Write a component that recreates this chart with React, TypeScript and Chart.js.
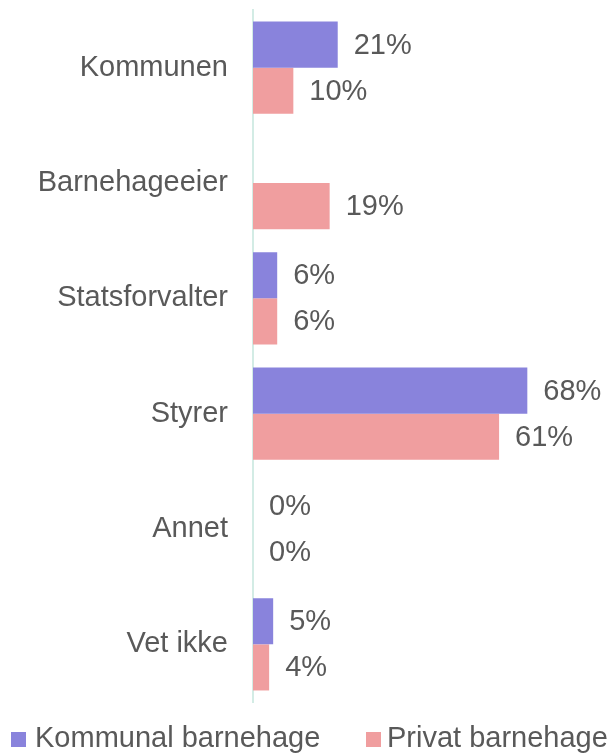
import React, { useEffect, useRef } from "react";
import { Chart, registerables } from "chart.js";

Chart.register(...registerables);

const categories = ["Kommunen", "Barnehageeier", "Statsforvalter", "Styrer", "Annet", "Vet ikke"];
const seriesNames = ["Kommunal barnehage", "Privat barnehage"];
const kommunalValues: (number | null)[] = [21, null, 6, 68, 0, 5];
const privatValues: (number | null)[] = [10, 19, 6, 61, 0, 4];
const seriesColors = ["#8983DC", "#F09E9F"];

const FONT = "'Liberation Sans', Arial, sans-serif";
const TEXT_COLOR = "#595959";

const valueLabelPlugin = {
  id: "valueLabels",
  afterDatasetsDraw(chart: any) {
    const ctx = chart.ctx;
    ctx.save();
    ctx.font = `29px ${FONT}`;
    ctx.fillStyle = TEXT_COLOR;
    ctx.textAlign = "left";
    ctx.textBaseline = "middle";
    chart.data.datasets.forEach((ds: any, di: number) => {
      const meta = chart.getDatasetMeta(di);
      meta.data.forEach((bar: any, i: number) => {
        const v = ds.data[i];
        if (v === null || v === undefined) return;
        ctx.fillText(`${v}%`, bar.x + 16, bar.y + 1);
      });
    });
    ctx.restore();
  },
};

export default function App() {
  const canvasRef = useRef<HTMLCanvasElement>(null);

  useEffect(() => {
    if (!canvasRef.current) return;
    const chart = new Chart(canvasRef.current, {
      type: "bar",
      data: {
        labels: categories,
        datasets: [
          {
            label: seriesNames[0],
            data: kommunalValues,
            backgroundColor: seriesColors[0],
            borderWidth: 0,
            categoryPercentage: 0.8,
            barPercentage: 1.0,
          },
          {
            label: seriesNames[1],
            data: privatValues,
            backgroundColor: seriesColors[1],
            borderWidth: 0,
            categoryPercentage: 0.8,
            barPercentage: 1.0,
          },
        ],
      },
      options: {
        indexAxis: "y",
        animation: false,
        responsive: false,
        maintainAspectRatio: false,
        layout: { padding: { top: 10, bottom: 52, left: 0, right: 5 } },
        plugins: {
          legend: { display: false },
          tooltip: { enabled: false },
        },
        scales: {
          x: {
            display: false,
            min: 0,
            max: 88,
          },
          y: {
            grid: { display: false, drawTicks: false },
            border: { display: true, color: "#D3ECE5", width: 2 },
            ticks: {
              color: TEXT_COLOR,
              font: { family: FONT, size: 29 },
              padding: 25,
            },
            afterFit(scale: any) {
              scale.width = 253;
              scale.paddingTop = 0;
              scale.paddingBottom = 0;
            },
          },
        },
      },
      plugins: [valueLabelPlugin],
    });
    return () => chart.destroy();
  }, []);

  const textStyle: React.CSSProperties = {
    position: "absolute",
    top: 723,
    fontFamily: FONT,
    fontSize: 29,
    lineHeight: "29px",
    color: TEXT_COLOR,
    whiteSpace: "nowrap",
  };
  const boxStyle = (left: number, color: string): React.CSSProperties => ({
    position: "absolute",
    left,
    top: 732,
    width: 15,
    height: 15,
    background: color,
  });

  return (
    <div style={{ position: "absolute", left: 0, top: 0, width: 613, height: 754, background: "#fff" }}>
      <canvas ref={canvasRef} width={613} height={754} style={{ display: "block" }} />
      <div style={boxStyle(11, seriesColors[0])} />
      <div style={{ ...textStyle, left: 35 }}>{seriesNames[0]}</div>
      <div style={boxStyle(366, seriesColors[1])} />
      <div style={{ ...textStyle, left: 387 }}>{seriesNames[1]}</div>
    </div>
  );
}
